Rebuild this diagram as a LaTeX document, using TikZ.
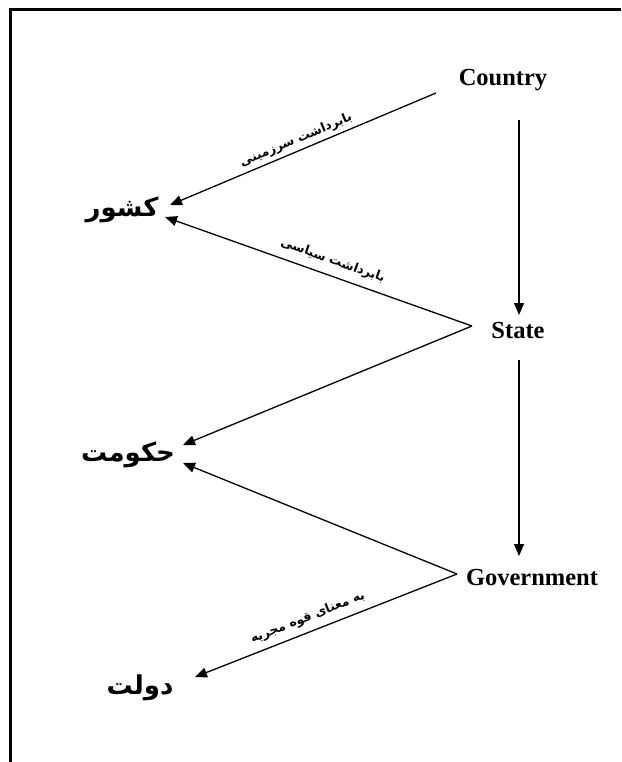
\documentclass[tikz,border=0pt]{standalone}
\usepackage{fontspec}
\setmainfont{Liberation Serif}
\newfontfamily\arabicfont[Script=Arabic]{DejaVu Sans}
\TeXXeTstate=1
\usetikzlibrary{arrows.meta}
\begin{document}
\begin{tikzpicture}[x=1pt,y=-1pt,
  eng/.style={font=\fontsize{24.5}{26}\selectfont\bfseries, inner sep=0pt},
  fa/.style={font=\arabicfont\bfseries\fontsize{26}{30}\selectfont, inner sep=0pt},
  lab/.style={font=\arabicfont\bfseries\fontsize{12.5}{14}\selectfont, sloped, inner sep=0pt},
  arr/.style={-{Triangle[length=12pt,width=10pt]}, line width=1.3pt},
  frame/.style={line width=3pt}]
\useasboundingbox (0,0) rectangle (621,762);
% frame (top and left sides only)
\draw[frame] (10,762) -- (10,10) -- (621,10);
% English nodes
\node[eng] (country) at (503,80) {Country};
\node[eng] (state) at (518,331) {State};
\node[eng] (gov) at (532,578) {Government};
% Persian nodes
\node[fa] (keshvar) at (122,210) {\beginR کشور\endR};
\node[fa] (hokumat) at (128,455) {\beginR حکومت\endR};
\node[fa] (dowlat) at (140,688) {\beginR دولت\endR};
% connector end points
\coordinate (cS) at (436,93);
\coordinate (cV) at (519,120);
\coordinate (sA) at (472,326);
\coordinate (sV) at (519,360);
\coordinate (gA) at (457,574);
\coordinate (kT1) at (170,205);
\coordinate (kT2) at (165,217);
\coordinate (hT1) at (183,445);
\coordinate (hT2) at (183,463);
\coordinate (dT) at (195,677);
\coordinate (sT) at (519,315);
\coordinate (gT) at (519,556);
% connectors
\draw[arr] (cS) -- node[lab, above=4pt, pos=0.51] {\beginR بابرداشت سرزمینی\endR} (kT1);
\draw[arr] (cV) -- (sT);
\draw[arr] (sA) -- node[lab, above=8pt, pos=0.47] {\beginR بابرداشت سیاسی\endR} (kT2);
\draw[arr] (sA) -- (hT1);
\draw[arr] (sV) -- (gT);
\draw[arr] (gA) -- (hT2);
\draw[arr] (gA) -- node[lab, above=7pt, pos=0.55] {\beginR به معنای قوه مجریه\endR} (dT);
\end{tikzpicture}
\end{document}
